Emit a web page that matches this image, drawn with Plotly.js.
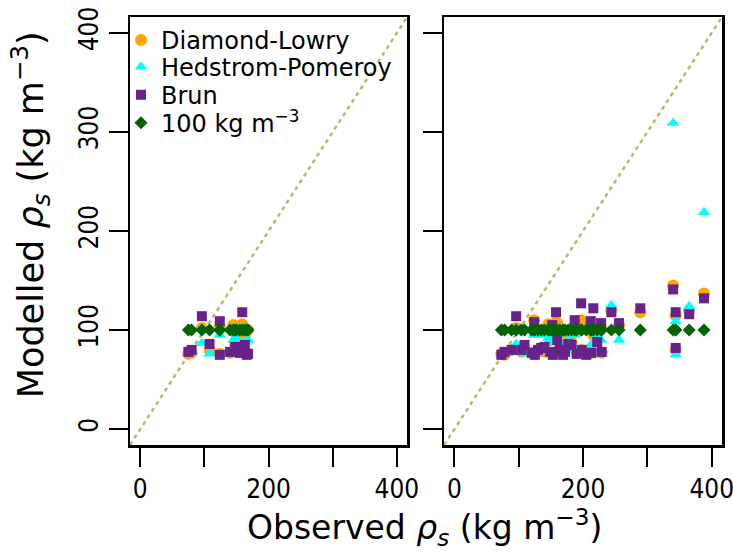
<!DOCTYPE html>
<html><head><meta charset="utf-8">
<script src="https://cdn.plot.ly/plotly-3.0.1.min.js"></script>
<style>body{margin:0;padding:0;background:#fff}#chart{width:733px;height:553px}</style>
</head><body><div id="chart"></div>
<script>
// ---- Data ----
// Left panel
const obs1 = [75, 80, 96, 108, 124, 124, 140, 145, 148, 150, 155, 159, 163, 166, 168];
const dl1  = [76, 77, 102, 80, 103, 76, 77, 105, 85, 96, 78, 106, 95, 77, 100];
const hp1  = [77, 78, 87, 76, 95, 76, 77, 90, 80, 92, 76, 100, 88, 76, 90];
const br1  = [78, 80, 114, 86, 109, 75, 78, 100, 83, 80, 77, 118, 85, 75, 76];
const c1   = [100,100,100,100,100,100,100,100,100,100,100,100,100,100,100];
// Right panel
const obs2 = [73,78,89,96,104,109,120,124,125,130,135,140,146,149,152,153,158,160,164,169,172,177,182,187,190,197,198,205,212,213,216,222,228,229,244,256,289,340,344,344,365,388];
const dl2  = [76,75,80,102,78,80,77,110,76,78,100,78,106,90,103,76,108,107,85,76,80,95,88,105,77,110,80,77,103,77,95,100,103,77,120,105,118,145,115,80,120,137];
const hp2  = [76,77,78,86,78,76,78,95,76,80,95,80,92,88,96,76,100,95,88,76,80,90,82,95,78,100,77,76,85,78,80,95,90,76,125,90,121,309,109,75,124,219];
const br2  = [75,78,80,114,80,85,77,108,75,80,82,83,100,78,105,75,118,90,80,75,78,86,85,110,76,127,80,75,109,77,122,88,107,78,118,107,122,141,118,82,116,132];
const c2   = [100,100,100,100,100,100,100,100,100,100,100,100,100,100,100,100,100,100,100,100,100,100,100,100,100,100,100,100,100,100,100,100,100,100,100,100,100,100,100,100,100,100];
// 1:1 line end points and axis range
const axisRange = [-16, 416];
const xTickVals = [0, 200, 400];
const xTickText = ['0', '200', '400'];
const xMinorVals = [100, 300];
const yTickVals = [0, 100, 200, 300, 400];
const yTickText = ['0', '100', '200', '300', '400'];
const seriesNames = ['Diamond-Lowry', 'Hedstrom-Pomeroy', 'Brun', '100 kg m<sup>\u22123</sup>'];

const FONT = 'DejaVu Sans, Verdana, sans-serif';
const TICKFONT = 'Liberation Sans Narrow, Arial Narrow, DejaVu Sans Condensed, sans-serif';
const colors = ['#FFA500', '#00FFFF', '#68228B', '#006400'];
const symbols = ['circle', 'triangle-up', 'square', 'diamond'];
const sizes = [12, 11, 10, 10];
const legendIds = ['legend', 'legend2', 'legend3', 'legend4'];

function panel(xs, ys4, xa, ya, showLeg) {
  const out = [];
  out.push({x: axisRange, y: axisRange, xaxis: xa, yaxis: ya, mode: 'lines',
    line: {color: '#BDB76B', width: 2.5, dash: '4px,4px'}, showlegend: false, hoverinfo: 'skip'});
  ys4.forEach((ys, i) => {
    out.push({x: xs, y: ys, xaxis: xa, yaxis: ya, mode: 'markers', name: seriesNames[i],
      legend: legendIds[i], showlegend: showLeg,
      marker: {symbol: symbols[i], color: colors[i], size: sizes[i], line: {width: 0}}});
  });
  return out;
}

const data = [].concat(
  panel(obs1, [dl1, hp1, br1, c1], 'x', 'y', true),
  panel(obs2, [dl2, hp2, br2, c2], 'x2', 'y2', false)
);

const axBase = {
  range: axisRange, ticks: 'outside', ticklen: 19, tickwidth: 2,
  tickcolor: '#000', showline: true, mirror: true, linewidth: 2.5, linecolor: '#000',
  showgrid: false, zeroline: false, tickfont: {family: TICKFONT, size: 26, color: '#000'},
  ticklabeloverflow: 'allow', fixedrange: true
};
const xBase = Object.assign({}, axBase, {tickvals: xTickVals, ticktext: xTickText,
  minor: {tickvals: xMinorVals, ticks: 'outside', ticklen: 19, tickwidth: 2, tickcolor: '#000', showgrid: false}});

const legRowsPx = [40, 67, 95, 123];
const legBase = {x: -0.0152, xanchor: 'left', yanchor: 'middle', bgcolor: 'rgba(0,0,0,0)',
  font: {family: FONT, size: 24, color: '#000'}, borderwidth: 0};

const layout = {
  width: 733, height: 553,
  margin: {l: 130, r: 10.7, t: 16.7, b: 108},
  paper_bgcolor: '#fff', plot_bgcolor: '#fff',
  font: {family: FONT, color: '#000'},
  showlegend: true,
  xaxis: Object.assign({}, xBase, {domain: [0, 0.4682], anchor: 'y'}),
  xaxis2: Object.assign({}, xBase, {domain: [0.5306, 1], anchor: 'y2'}),
  yaxis: Object.assign({}, axBase, {domain: [0, 1], anchor: 'x', tickvals: yTickVals, ticktext: yTickText, tickangle: -90}),
  yaxis2: Object.assign({}, axBase, {domain: [0, 1], anchor: 'x2', tickvals: yTickVals, showticklabels: false}),
  annotations: [
    {xref: 'paper', yref: 'paper', x: 0.498, y: -0.1935, xanchor: 'center', yanchor: 'middle',
     showarrow: false, text: 'Observed <i>\u03C1<sub>s</sub></i> (kg m<sup>\u22123</sup>)',
     font: {family: FONT, size: 33, color: '#000'}},
    {xref: 'paper', yref: 'paper', x: -0.1688, y: 0.537, xanchor: 'center', yanchor: 'middle',
     showarrow: false, textangle: -90, text: 'Modelled <i>\u03C1<sub>s</sub></i> (kg m<sup>\u22123</sup>)',
     font: {family: FONT, size: 35, color: '#000'}}
  ]
};
legendIds.forEach((id, i) => {
  layout[id] = Object.assign({}, legBase, {y: 1 - (legRowsPx[i] - 16.7) / 428.3});
});

Plotly.newPlot('chart', data, layout, {staticPlot: true, displayModeBar: false});
</script>
</body></html>
